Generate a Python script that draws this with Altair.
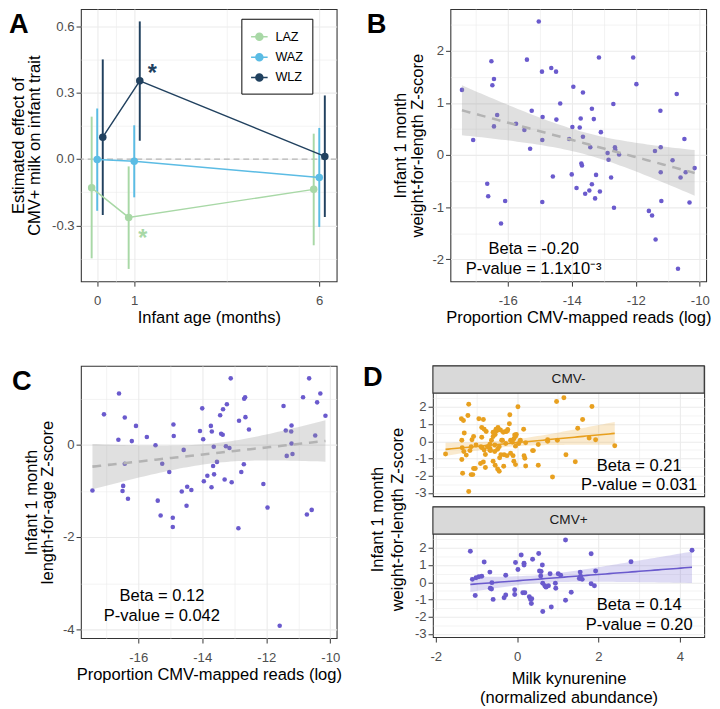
import altair as alt
import numpy as np
import pandas as pd

FONT = "Liberation Sans"
LETTER_FONT = "Liberation Sans"
PURPLE = "#6a5acd"
ORANGE = "#e8a01f"

# ---------------- Panel A data ----------------
months = [0, 1, 6]
traits = ["LAZ", "WAZ", "WLZ"]
laz_est = [-0.130, -0.264, -0.137]
laz_lo = [-0.449, -0.497, -0.390]
laz_hi = [0.192, -0.033, 0.115]
waz_est = [-0.002, -0.010, -0.083]
waz_lo = [-0.234, -0.173, -0.307]
waz_hi = [0.229, 0.153, 0.141]
wlz_est = [0.099, 0.354, 0.012]
wlz_lo = [-0.253, 0.083, -0.262]
wlz_hi = [0.451, 0.623, 0.288]
trait_colors = ["#a8d8a6", "#5bbce4", "#21415f"]
star_traits = ["WLZ", "LAZ"]
star_x = [1.49, 1.23]
star_y = [0.41, -0.336]

# ---------------- Panel B data (1-month WLZ vs CMV reads) ----------------
b_x = [-17.43, -17.08, -16.64, -16.61, -16.51, -16.48, -16.43, -16.43, -16.33, -16.21,
       -16.08, -15.74, -15.48, -15.40, -15.30, -15.25, -15.03, -14.93, -14.91, -14.92,
       -14.92, -14.64, -14.59, -14.49, -14.48, -14.36, -14.08, -14.00, -13.98, -13.95,
       -13.85, -13.75, -13.72, -13.70, -13.68, -13.65, -13.65, -13.58, -13.45, -13.42,
       -13.37, -13.37, -13.31, -13.27, -13.24, -13.15, -13.12, -13.09, -12.88, -12.85,
       -12.77, -12.70, -12.68, -12.65, -12.64, -12.52, -12.08, -11.98, -11.59, -11.49,
       -11.40, -11.38, -11.23, -11.22, -11.22, -11.20, -10.85, -10.72, -10.68, -10.60,
       -10.48, -10.44, -10.32, -10.16]
b_y = [1.25, 0.29, -0.55, -0.79, 1.80, 1.34, 1.46, 0.55, 0.77, -1.31,
       -0.88, 0.60, 0.48, 1.83, 0.12, 0.85, 2.56, 1.60, 0.73, 0.29,
       -0.90, 1.67, -0.41, 1.60, 0.68, 0.99, 0.31, -0.37, 0.54, 1.31,
       -0.63, 0.53, 0.70, -0.16, -0.20, 1.20, 0.35, -0.74, -0.68, 0.15,
       0.89, -0.56, 0.69, -0.83, -0.38, 1.87, -0.70, 0.44, 0.04, -0.09,
       -0.43, 0.98, -1.01, 0.15, 0.10, 0.01, 1.87, 1.36, -1.07, -1.16,
       0.08, -1.62, 0.85, 0.15, -0.33, -0.88, -0.10, 1.17, -2.18, -0.43,
       0.31, -0.33, -0.91, -0.25]

# ---------------- Panel C data (1-month LAZ vs CMV reads) ----------------
c_x = [-17.43, -17.07, -16.62, -16.60, -16.49, -16.47, -16.42, -16.42, -16.32, -16.20,
       -16.07, -15.73, -15.46, -15.39, -15.30, -15.25, -15.03, -14.92, -14.92, -14.90,
       -14.89, -14.64, -14.58, -14.49, -14.47, -14.34, -14.07, -14.00, -13.97, -13.95,
       -13.84, -13.73, -13.71, -13.70, -13.66, -13.64, -13.63, -13.54, -13.44, -13.41,
       -13.36, -13.35, -13.30, -13.26, -13.23, -13.15, -13.11, -13.08, -12.87, -12.85,
       -12.78, -12.70, -12.69, -12.66, -12.65, -12.54, -12.09, -11.96, -11.58, -11.46,
       -11.39, -11.36, -11.22, -11.21, -11.21, -11.18, -10.85, -10.73, -10.66, -10.58,
       -10.47, -10.41, -10.31, -10.15]
c_y = [-0.99, 0.66, 0.11, 1.11, -1.00, -0.89, 0.59, -0.41, -1.17, 0.08,
       0.41, 0.17, -0.01, -1.21, -1.53, -0.41, -0.59, -1.58, -1.78, 0.44,
       0.19, -1.01, -0.11, -1.32, -0.91, -0.98, 0.30, 0.79, 0.12, -0.79,
       -0.67, 0.41, -0.92, 0.29, -0.46, -0.04, -0.64, -0.37, 0.64, 0.24,
       0.22, 0.77, -0.75, -0.03, 0.88, -0.07, 1.44, -0.81, -1.81, 0.52,
       -0.59, -0.42, 1.00, 1.03, 0.60, 0.33, -0.85, -1.36, -3.92, 0.84,
       0.31, -0.24, 0.29, 0.03, 0.42, -0.20, 1.03, -1.51, 1.44, -1.41,
       0.20, 0.92, 1.11, 0.63]

# ---------------- Panel D data (kynurenine vs 1-month WLZ) ----------------
groups = ["CMV-", "CMV+"]
dneg_x = [-1.76, -1.37, -1.32, -1.21, -1.19, -1.30, -1.36, -1.35, -1.31, -1.36,
          -1.25, -1.34, -1.13, -1.09, -1.07, -1.03, -1.19, -1.16, -1.13, -1.11,
          -1.07, -1.01, -0.94, -0.83, -0.87, -0.81, -0.76, -0.78, -0.83, -0.90,
          -0.86, -0.81, -0.78, -0.73, -0.67, -0.63, -0.59, -0.54, -0.50, -0.52,
          -0.47, -0.41, -0.34, -0.36, -0.27, -0.23, -0.19, -0.18, -0.32, -0.25,
          -0.33, -0.48, -0.43, -0.40, -0.59, -0.54, -0.67, -0.65, -0.55, -0.48,
          -0.44, -0.28, -0.16, -0.12, -0.08, -0.04, -0.02, 0.02, -0.04, 0.04,
          0.08, -0.16, -0.10, -0.04, -0.08, 0.16, 0.17, 0.19, 0.21, 0.40,
          0.52, 0.52, 0.75, 0.99, 0.97, 1.15, 1.20, 0.87, 1.43, 1.49,
          1.61, 1.77, 1.84, 1.93, 2.40, -0.87, -0.67, -0.55, -0.38, -0.30,
          -0.24, -0.12, -0.06, 0.21, 0.38, 0.75, -0.44, -0.89, -0.59, -0.46]
dneg_y = [-0.74, 1.31, 1.20, 1.50, 2.15, 0.48, 0.06, -0.37, -0.59, -1.06,
          -0.80, -1.85, -1.93, -1.93, -1.57, -1.57, -2.91, -0.54, -0.31, 0.09,
          0.28, -0.22, 1.31, 1.26, 0.80, 0.70, 0.57, -1.52, -1.20, -1.28,
          -0.37, -0.50, -0.76, -0.31, -0.17, 0.06, 0.28, 0.39, 0.61, 0.70,
          0.80, 0.65, 0.52, 0.06, 0.56, 0.69, 1.02, 1.54, -0.78, -0.83,
          -1.44, -1.61, -0.96, -0.78, -1.15, -1.39, -0.41, -0.54, -0.59, -0.46,
          -0.31, -0.13, 0.06, -0.04, 0.15, 0.28, 0.39, 2.00, -0.28, -0.13,
          0.06, -0.69, -0.83, -1.35, -1.15, 0.70, -0.83, -0.98, -1.43, -0.54,
          -0.19, -1.39, 0.09, 0.06, 2.31, 2.52, -0.78, -2.07, -1.19, 0.76,
          1.26, 0.19, 2.02, 0.09, -0.26, 0.24, -0.52, -0.22, 0.06, 0.56,
          0.61, -0.04, 0.37, -0.09, -0.54, 0.00, -1.74, -0.31, 0.52, 0.70]
dpos_x = [-1.15, -1.10, -1.03, -1.01, -0.94, -0.87, -0.81, -0.67, -0.62, -0.66,
          -0.63, -0.59, -0.32, -0.28, -0.28, -0.06, -0.06, -0.04, 0.02, 0.10,
          0.17, 0.17, 0.14, 0.19, 0.30, 0.33, 0.36, 0.35, 0.38, 0.53,
          0.55, 0.59, 0.58, 0.62, 0.63, 0.63, 0.68, 0.71, 0.77, 0.81,
          0.84, 0.94, 0.95, 1.01, 1.07, 1.19, 1.19, 1.33, 1.55, 1.53,
          1.56, 1.60, 1.82, 1.82, 1.90, 1.93, 2.80, 4.30]
dpos_y = [1.80, 0.17, -0.76, 0.26, 0.32, 0.35, 1.17, 0.59, -0.02, -0.35,
          -0.39, -0.99, -0.89, -0.74, 0.41, -0.43, -0.71, 1.15, 0.74, 1.58,
          1.10, 1.00, -0.61, -0.61, -0.84, -0.99, -0.95, -1.23, 1.34, 1.67,
          0.65, 0.63, 0.37, 1.00, -1.69, -0.06, -0.20, -0.28, -0.20, 0.50,
          -1.43, -0.06, -0.35, 0.50, 0.41, 2.45, -1.04, -0.58, 0.59, 0.22,
          0.35, 0.17, 1.65, -0.09, -0.20, 0.65, 1.19, 1.86]


def lm_band(x, y, n=60, t=1.99):
    x = np.asarray(x, float)
    y = np.asarray(y, float)
    b1, b0 = np.polyfit(x, y, 1)
    xs = np.linspace(x.min(), x.max(), n)
    yhat = b0 + b1 * xs
    resid = y - (b0 + b1 * x)
    s = np.sqrt((resid ** 2).sum() / (len(x) - 2))
    se = s * np.sqrt(1 / len(x) + (xs - x.mean()) ** 2 / ((x - x.mean()) ** 2).sum())
    return pd.DataFrame({"x": xs, "fit": yhat, "lo": yhat - t * se, "hi": yhat + t * se})


def grid_axis(values, major, title, **kw):
    return alt.Axis(
        values=values,
        title=title,
        labelExpr=f"({major}) ? replace(datum.label, '\u2212', '-') : ''",
        gridWidth={"condition": {"test": major, "value": 1.1}, "value": 0.6},
        tickOpacity={"condition": {"test": major, "value": 1}, "value": 0},
        **kw,
    )


def letter(ch, dx, dy):
    return alt.Chart(pd.DataFrame({"t": [ch]})).mark_text(
        font=LETTER_FONT, fontSize=28, fontWeight="bold", align="left", baseline="top", color="black"
    ).encode(text="t:N", x=alt.value(dx), y=alt.value(dy))


# ================= Panel A =================
DODGE = {"LAZ": -0.15, "WAZ": 0.0, "WLZ": 0.15}
rows = []
for t, e, l, h in zip(traits, [laz_est, waz_est, wlz_est], [laz_lo, waz_lo, wlz_lo], [laz_hi, waz_hi, wlz_hi]):
    for m, ee, ll, hh in zip(months, e, l, h):
        rows.append({"trait": t, "month": m, "pos": m + DODGE[t], "est": ee, "lo": ll, "hi": hh})
dfA = pd.DataFrame(rows)

xA_scale = alt.Scale(domain=[-0.44, 6.47], nice=False, zero=False)
yA_scale = alt.Scale(domain=[-0.553, 0.679], nice=False, zero=False)
xA_axis = grid_axis([0, 0.5, 1, 3.5, 6], "datum.value == 0 || datum.value == 1 || datum.value == 6",
                    "Infant age (months)", titlePadding=3)
yA_axis = grid_axis([-0.45, -0.3, -0.15, 0, 0.15, 0.3, 0.45, 0.6], "round(datum.value*20) % 2 == 0",
                    ["Estimated effect of", "CMV+ milk on infant trait"], format=".1f", titlePadding=8)
colA = alt.Scale(domain=traits, range=trait_colors)
SYM = "M-1,0H1M-0.42,0A0.42,0.42,0,1,0,0.42,0A0.42,0.42,0,1,0,-0.42,0Z"
legA = alt.Legend(title=None, orient="none", legendX=165, legendY=10, symbolType=SYM, symbolSize=290,
                  symbolStrokeWidth=1.6, labelFontSize=13, labelFont=FONT, labelColor="black",
                  strokeColor="black", fillColor="white", padding=9, rowPadding=4, labelOffset=7)

xA = alt.X("pos:Q", scale=xA_scale, axis=xA_axis)
baseA = alt.Chart(dfA)
zeroA = alt.Chart(pd.DataFrame({"z": [0.0]})).mark_rule(color="#b5b5b5", strokeDash=[6, 4], strokeWidth=1.2).encode(
    y=alt.Y("z:Q", scale=yA_scale, axis=yA_axis))
barsA = baseA.mark_rule(strokeWidth=2).encode(
    x=xA, y=alt.Y("lo:Q", scale=yA_scale, axis=yA_axis), y2="hi:Q",
    stroke=alt.Stroke("trait:N", scale=colA, legend=legA))
linesA = baseA.mark_line(strokeWidth=1.5).encode(
    x=xA, y=alt.Y("est:Q", scale=yA_scale, axis=yA_axis),
    stroke=alt.Stroke("trait:N", scale=colA, legend=legA))
ptsA = baseA.mark_circle(size=60, opacity=1).encode(
    x=xA, y=alt.Y("est:Q", scale=yA_scale, axis=yA_axis),
    fill=alt.Fill("trait:N", scale=colA, legend=legA))
starsDf = pd.DataFrame({"trait": star_traits, "x": star_x, "y": star_y})
star_layers = []
for i, tr in enumerate(star_traits):
    star_layers.append(
        alt.Chart(starsDf[starsDf.trait == tr]).mark_text(
            text="*", fontSize=24, fontWeight="bold", font=FONT, dy=6,
            color=trait_colors[traits.index(tr)]).encode(
            x=alt.X("x:Q", scale=xA_scale, axis=xA_axis), y=alt.Y("y:Q", scale=yA_scale, axis=yA_axis)))
chartA = alt.layer(zeroA, barsA, linesA, ptsA, *star_layers, letter("A", -74, 3)).properties(width=263, height=280)

# ================= Panel B / C =================
xBC_scale = alt.Scale(domain=[-17.79, -9.80], nice=False, zero=False)
xBC_axis = grid_axis([-17, -16, -15, -14, -13, -12, -11, -10], "datum.value % 2 == 0",
                     "Proportion CMV-mapped reads (log)", titlePadding=3)


def scatter_panel(xs, ys, y_scale, y_axis, ann_x, ann_y, ann_text, letter_ch, ldx, ldy):
    df = pd.DataFrame({"x": xs, "y": ys})
    fit = lm_band(xs, ys)
    X = alt.X("x:Q", scale=xBC_scale, axis=xBC_axis)
    pts = alt.Chart(df).mark_circle(size=22, color=PURPLE, opacity=1).encode(
        x=X, y=alt.Y("y:Q", scale=y_scale, axis=y_axis))
    band = alt.Chart(fit).mark_area(color="#999999", opacity=0.3).encode(
        x=X, y=alt.Y("lo:Q", scale=y_scale, axis=y_axis), y2="hi:Q")
    line = alt.Chart(fit).mark_line(color="#b3b3b3", strokeDash=[9, 7], strokeWidth=2.6).encode(
        x=X, y=alt.Y("fit:Q", scale=y_scale, axis=y_axis))
    ann = alt.Chart(pd.DataFrame({"x": ann_x, "y": ann_y, "t": ann_text})).mark_text(
        font=FONT, fontSize=17, color="black", align="center", baseline="middle").encode(
        x=alt.X("x:Q", scale=xBC_scale, axis=xBC_axis), y=alt.Y("y:Q", scale=y_scale, axis=y_axis), text="t:N")
    return alt.layer(pts, band, line, ann, letter(letter_ch, ldx, ldy)).properties(width=263, height=280)


yB_scale = alt.Scale(domain=[-2.42, 2.80], nice=False, zero=False)
yB_axis = grid_axis([-2, -1.5, -1, -0.5, 0, 0.5, 1, 1.5, 2, 2.5], "datum.value % 1 == 0",
                    ["Infant 1 month", "weight-for-length Z-score"], format=".0f")
chartB = scatter_panel(b_x, b_y, yB_scale, yB_axis, [-15.19, -15.19], [-1.81, -2.18],
                       ["Beta = -0.20", "P-value = 1.1x10\u207b\u00b3"], "B", -86, 3)

yC_scale = alt.Scale(domain=[-4.19, 1.71], nice=False, zero=False)
yC_axis = grid_axis([-4, -3, -2, -1, 0, 1], "datum.value % 2 == 0",
                    ["Infant 1 month", "length-for-age Z-score"], format=".0f")
chartC = scatter_panel(c_x, c_y, yC_scale, yC_axis, [-15.26, -15.26], [-3.29, -3.71],
                       ["Beta = 0.12", "P-value = 0.042"], "C", -71, 3)

# ================= Panel D =================
WD, HD, STRIP = 279, 106, 28
xD_scale = alt.Scale(domain=[-2.07, 4.60], nice=False, zero=False)
yD_scale = alt.Scale(domain=[-3.18, 2.79], range=[HD + STRIP, STRIP], nice=False, zero=False)
xD_vals = [-2, -1, 0, 1, 2, 3, 4]
yD_axis = grid_axis([-3, -2.5, -2, -1.5, -1, -0.5, 0, 0.5, 1, 1.5, 2, 2.5], "datum.value % 1 == 0", None,
                    format=".0f")


def facet_panel(xs, ys, color, group, ann_y, ann_text, bottom):
    df = pd.DataFrame({"x": xs, "y": ys})
    fit = lm_band(xs, ys)
    if bottom:
        xax = grid_axis(xD_vals, "datum.value % 2 == 0", ["Milk kynurenine", "(normalized abundance)"],
                        titleLineHeight=20, titlePadding=8)
    else:
        xax = grid_axis(xD_vals, "datum.value % 2 == 0", None, labels=False, ticks=False)
    X = alt.X("x:Q", scale=xD_scale, axis=xax)
    Y = lambda f: alt.Y(f, scale=yD_scale, axis=yD_axis)
    pts = alt.Chart(df).mark_circle(size=26, color=color, opacity=1).encode(x=X, y=Y("y:Q"))
    band = alt.Chart(fit).mark_area(color=color, opacity=0.22).encode(x=X, y=Y("lo:Q"), y2="hi:Q")
    line = alt.Chart(fit).mark_line(color=color, strokeWidth=1.6).encode(x=X, y=Y("fit:Q"))
    ann = alt.Chart(pd.DataFrame({"x": [3.0, 3.0], "y": ann_y, "t": ann_text})).mark_text(
        font=FONT, fontSize=17, color="black", align="center", baseline="middle").encode(
        x=alt.X("x:Q", scale=xD_scale, axis=xax), y=Y("y:Q"), text="t:N")
    sdf = pd.DataFrame({"g": [group]})
    strip = alt.Chart(sdf).mark_rect(fill="#d9d9d9", stroke="#333333", strokeWidth=1.1).encode(
        x=alt.value(0), x2=alt.value(WD), y=alt.value(0), y2=alt.value(STRIP))
    stext = alt.Chart(sdf).mark_text(font=FONT, fontSize=14, color="#1a1a1a").encode(
        text="g:N", x=alt.value(WD / 2), y=alt.value(STRIP / 2))
    layers = [pts, band, line, ann, strip, stext]
    if not bottom:
        ytitle = alt.Chart(pd.DataFrame({"t": [["Infant 1 month", "weight-for-length Z-score"]]})).mark_text(
            font=FONT, fontSize=17, angle=270, align="center", baseline="middle", lineHeight=20,
            color="black").encode(text="t", x=alt.value(-56), y=alt.value(158))
        layers += [ytitle, letter("D", -72, -1)]
    return alt.layer(*layers).properties(width=WD, height=HD + STRIP)


dTop = facet_panel(dneg_x, dneg_y, ORANGE, groups[0], [-1.43, -2.54], ["Beta = 0.21", "P-value = 0.031"], False)
dBot = facet_panel(dpos_x, dpos_y, PURPLE, groups[1], [-1.32, -2.47], ["Beta = 0.14", "P-value = 0.20"], True)
chartD = alt.vconcat(dTop, dBot, spacing=11, bounds="flush")

row1 = alt.hconcat(chartA, chartB, spacing=28)
row2 = alt.hconcat(chartC, chartD, spacing=20)
chart = alt.vconcat(row1, row2, spacing=38).properties(
    padding={"left": 0, "top": -10, "right": 0, "bottom": 0}
).configure(font=FONT).configure_view(
    stroke="#333333", strokeWidth=1.1
).configure_axis(
    labelFont=FONT, labelFontSize=13.5, labelColor="#4d4d4d", titleFont=FONT, titleFontSize=17,
    titleFontWeight="normal", titleColor="black", gridColor="#ebebeb", tickColor="#333333",
    tickSize=5, domain=False, titlePadding=6, titleLineHeight=17
).configure_axisX(labelPadding=8).configure_axisY(labelPadding=2)

chart.save("out.html", embed_options={"renderer": "svg", "actions": False})
